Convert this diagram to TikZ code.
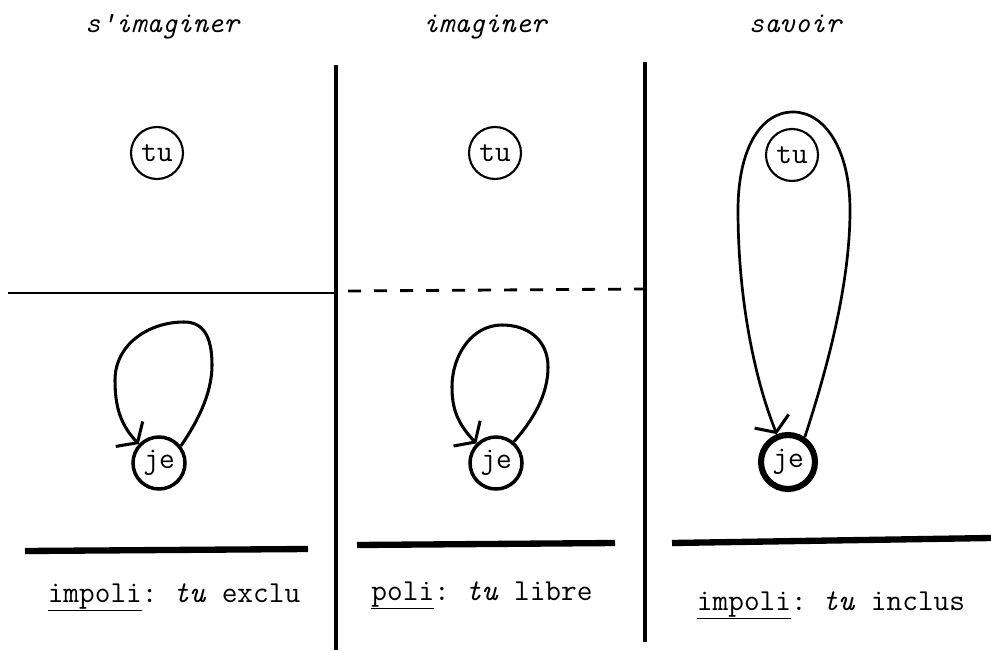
\documentclass[tikz,border=0pt]{standalone}
\usetikzlibrary{arrows.meta}
\begin{document}
\begin{tikzpicture}[x=0.03cm,y=-0.03cm,
  every node/.style={font=\ttfamily\fontsize{26}{26}\selectfont},
  title/.style={font=\ttfamily\itshape\fontsize{25}{25}\selectfont, anchor=base},
  caption/.style={anchor=base},
  pron/.style={draw, circle, minimum size=1.56cm, inner sep=0pt, line width=1.8pt},
  self/.style={pron, line width=3pt},
  selfbold/.style={pron, line width=5.2pt, minimum size=1.62cm},
  rule/.style={line width=2.6pt},
  bar/.style={line width=5.4pt},
  loopline/.style={line width=2.6pt, -{Straight Barb[length=3.6mm, width=11mm, line width=2.6pt]}},
]
\useasboundingbox (0,0) rectangle (991,650);

% column headings
\node[title] (h1) at (162,33) {s'imaginer};
\node[title] (h2) at (485,33) {imaginer};
\node[title] (h3) at (795,33) {savoir};

% column separators
\coordinate (v1t) at (336,65);  \coordinate (v1b) at (336,650);
\coordinate (v2t) at (645,62);  \coordinate (v2b) at (645,642);
\draw[rule] (v1t) -- (v1b);
\draw[rule] (v2t) -- (v2b);

% boundaries between tu and je
\coordinate (s1) at (8,293);   \coordinate (s2) at (336,293);
\draw[line width=2.1pt] (s1) -- (s2);
\coordinate (d1) at (348,291); \coordinate (d2) at (643,289);
\draw[line width=2.4pt, dash pattern=on 0.39cm off 0.39cm] (d1) -- (d2);

% pronoun circles
\node[pron] (tu1) at (157,153) {tu};
\node[pron] (tu2) at (495,153) {tu};
\node[pron] (tu3) at (792,155) {tu};
\node[self] (je1) at (159,463) {je};
\node[self] (je2) at (496,463) {je};
\node[selfbold] (je3) at (788,462) {je};

% reflexive loops
\draw[loopline] (je1.38) .. controls (196,424) and (212,395) .. (212,365)
  .. controls (212,336) and (203,322) .. (184,322)
  .. controls (148,322) and (115,345) .. (115,380)
  .. controls (115,408) and (121,425) .. (je1.137);
\draw[loopline] (je2.50) .. controls (533,420) and (548,395) .. (548,367)
  .. controls (548,340) and (528,325) .. (502,325)
  .. controls (472,325) and (452,355) .. (452,387)
  .. controls (452,408) and (457,423) .. (je2.135);
\draw[loopline, line width=2.3pt] (je3.56) .. controls (830,360) and (850,280) .. (850,210)
  .. controls (850,150) and (825,112) .. (793,112)
  .. controls (760,112) and (738,150) .. (738,210)
  .. controls (738,300) and (755,380) .. (je3.112);

% bottom bars
\coordinate (b1l) at (25,551);  \coordinate (b1r) at (308,549);
\coordinate (b2l) at (357,545); \coordinate (b2r) at (615,543);
\coordinate (b3l) at (672,543); \coordinate (b3r) at (991,538);
\draw[bar] (b1l) -- (b1r);
\draw[bar] (b2l) -- (b2r);
\draw[bar] (b3l) -- (b3r);

% captions
\node[caption] (c1) at (174,602) {\underline{impoli}:~\textit{tu}~exclu};
\node[caption] (c2) at (482,600) {\underline{poli}:~\textit{tu}~libre};
\node[caption] (c3) at (831,610) {\underline{impoli}:~\textit{tu}~inclus};
\end{tikzpicture}
\end{document}
